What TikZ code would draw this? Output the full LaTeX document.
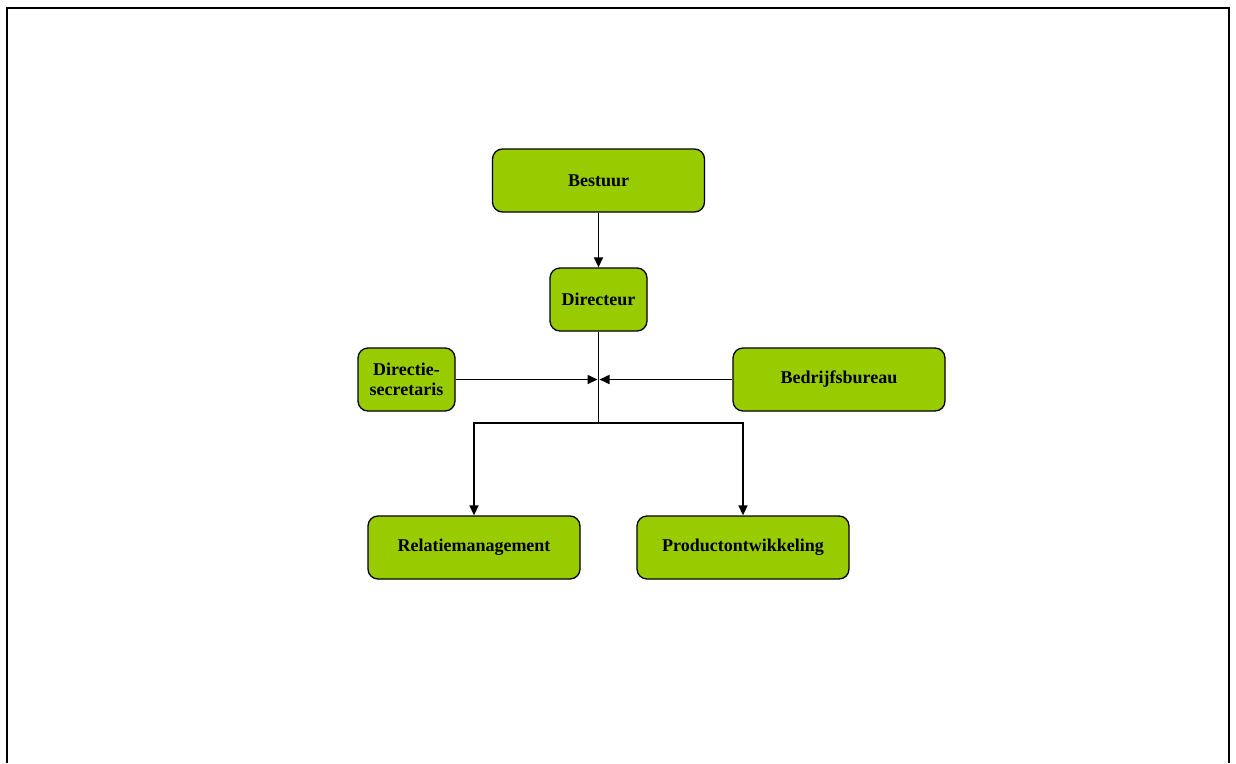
\documentclass[tikz,border=0pt]{standalone}
\usepackage{fontspec}
\setmainfont{Liberation Serif}
\usetikzlibrary{shapes,arrows.meta,positioning}
\definecolor{boxgreen}{HTML}{99CC00}
\begin{document}
\begin{tikzpicture}[x=1pt,y=-1pt]
    \tikzstyle{unit}=[rectangle,draw=black,line width=1.3pt,fill=boxgreen,rounded corners=10pt,
      minimum height=63pt,align=center,font=\fontsize{18}{20}\selectfont\bfseries,inner sep=2pt]
    \tikzstyle{wide}=[unit,minimum width=212pt]
    \tikzstyle{narrow}=[unit,minimum width=97pt]
    \tikzstyle{link}=[line width=1.6pt,-{Triangle[length=10pt,width=9pt]}]
    \useasboundingbox (0,0) rectangle (1236,763);
    \draw[line width=2pt] (7,763) -- (7,8) -- (1229,8) -- (1229,763);
    \node[wide] (bestuur) at (598.5,180.5) {Bestuur};
    \node[narrow] (directeur) at (598.5,299.5) {Directeur};
    \node[narrow] (secretaris) at (406.5,379.5) {Directie-\\secretaris};
    \node[wide] (bureau) at (839,379.5) {Bedrijfsbureau};
    \node[wide] (relatie) at (474,547.5) {Relatiemanagement};
    \node[wide] (product) at (743,547.5) {Productontwikkeling};
    \coordinate (split) at (598.5,423);
    \coordinate (leftin) at (597.5,379.5);
    \coordinate (rightin) at (599.5,379.5);
    \draw[link] (bestuur) -- (directeur);
    \draw[line width=1.6pt] (directeur) -- (split);
    \draw[link] (secretaris) -- (leftin);
    \draw[link] (bureau) -- (rightin);
    \draw[link] (split) -| (relatie);
    \draw[link] (split) -| (product);
\end{tikzpicture}
\end{document}
